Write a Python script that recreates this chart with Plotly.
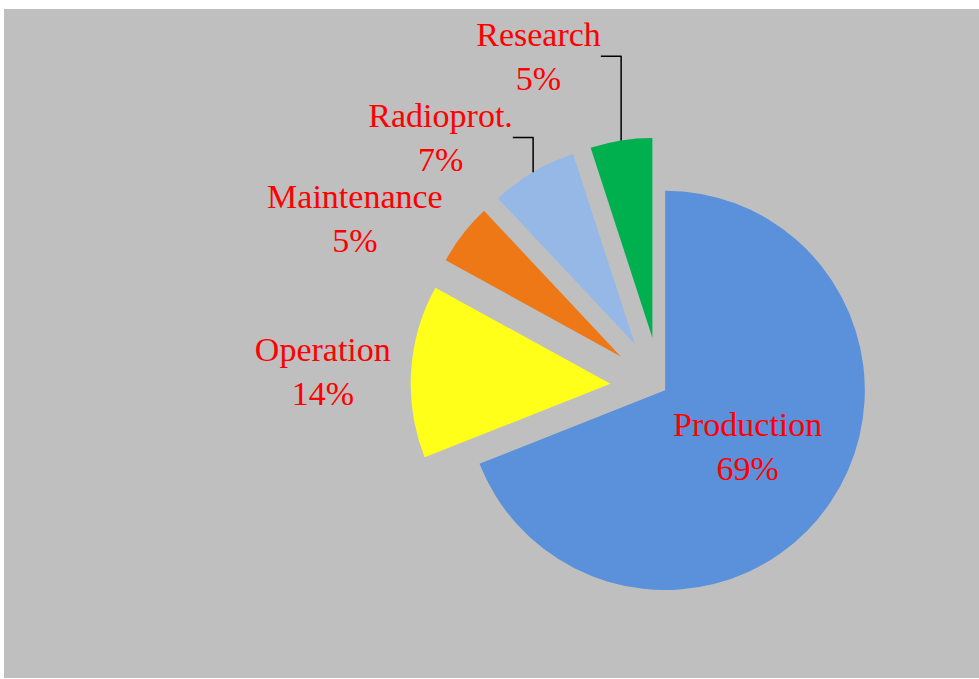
import plotly.graph_objects as go

categories = ["Production", "Operation", "Maintenance", "Radioprot.", "Research"]
shares = [69, 14, 5, 7, 5]
colors = ["#5B90DA", "#FFFF1A", "#EE7716", "#95B8E6", "#00B04F"]
pulls = [0.03, 0.25, 0.25, 0.25, 0.25]
positions = ["inside", "outside", "outside", "outside", "outside"]

fig = go.Figure(go.Pie(
    labels=categories,
    values=shares,
    sort=False,
    direction="clockwise",
    rotation=0,
    pull=pulls,
    marker=dict(colors=colors, line=dict(width=0)),
    texttemplate="%{label}<br>%{percent:.0%}",
    textposition=positions,
    insidetextorientation="horizontal",
    textfont=dict(family="Liberation Serif", size=34, color="#FF0000"),
    showlegend=False,
    automargin=False,
    domain=dict(x=[0.417, 0.929], y=[0.061, 0.809]),
))

fig.update_layout(
    width=979, height=679,
    margin=dict(l=4, r=0, t=9, b=1, autoexpand=False),
    paper_bgcolor="white",
    shapes=[dict(type="rect", xref="paper", yref="paper", x0=0, x1=1, y0=0, y1=1,
                 fillcolor="#BFBFBF", line=dict(width=0), layer="below")],
)

post = """
document.body.style.margin = '0';
document.body.style.overflow = 'hidden';
var gd = document.getElementsByClassName('plotly-graph-div')[0];
function fixLines(){
  var ls = gd.querySelectorAll('path.textline');
  ls.forEach(function(l){ l.style.stroke = '#000000'; l.style.strokeWidth = '1.5px'; });
}
fixLines();
gd.on('plotly_afterplot', fixLines);
"""
fig.write_html("out.html", post_script=post, config={"displayModeBar": False})
